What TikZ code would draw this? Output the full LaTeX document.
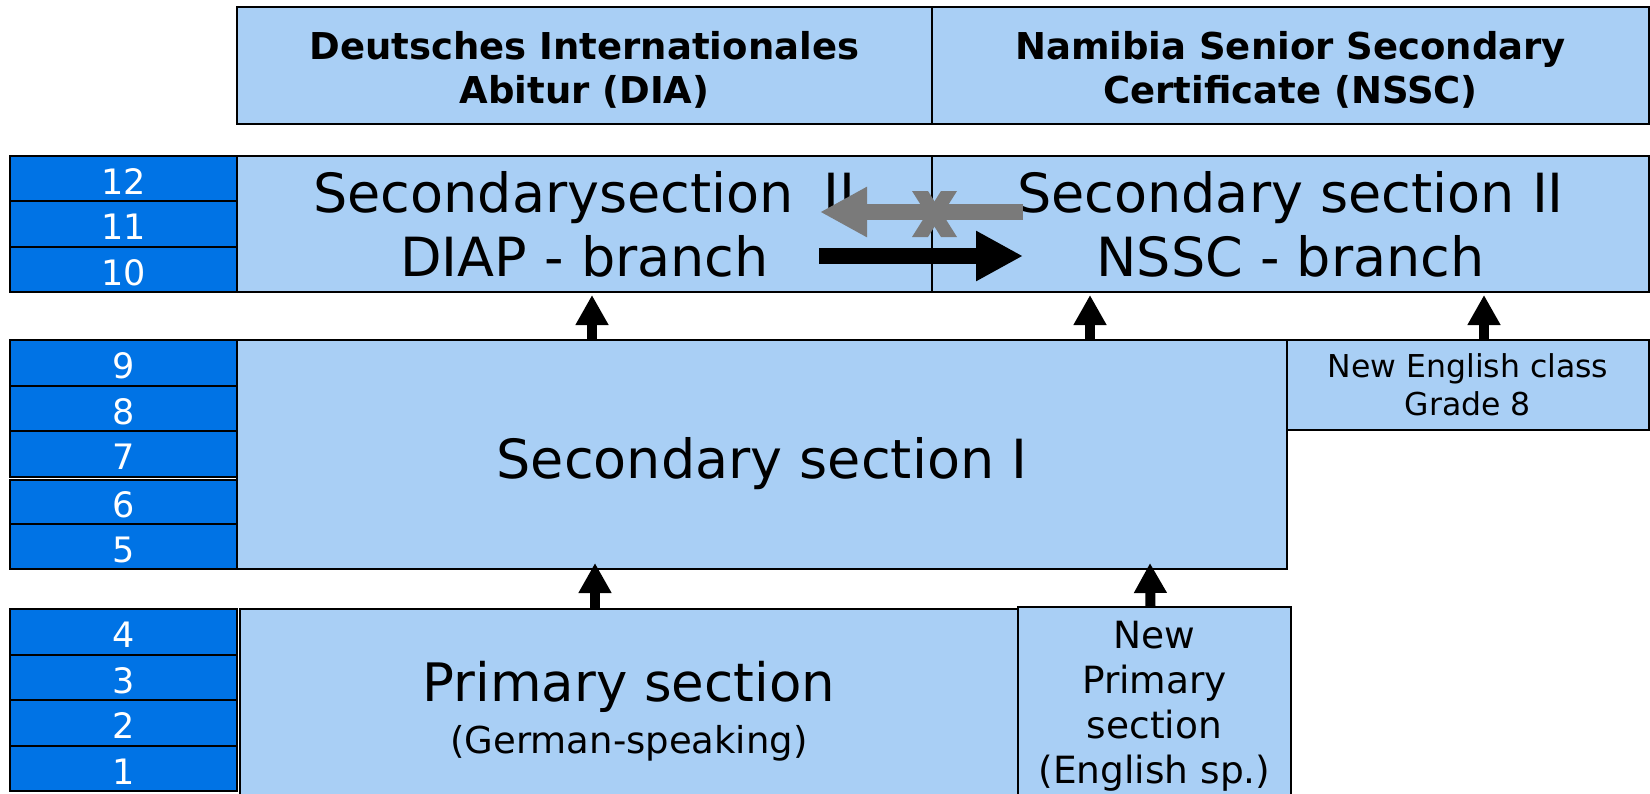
\documentclass[tikz,border=0pt]{standalone}
\usepackage{fontspec}
\setmainfont{DejaVu Sans}
\usepackage{tikz}
\usetikzlibrary{arrows.meta,calc}
\definecolor{paleblue}{RGB}{169,207,245}
\definecolor{gradeblue}{RGB}{0,115,229}
\definecolor{arrowgray}{RGB}{122,122,122}

\begin{document}
\begin{tikzpicture}[x=1pt, y=-1pt,
  sectionbox/.style={draw=black, line width=1.5pt, fill=paleblue, inner sep=0pt, outer sep=0pt, align=center},
  headbox/.style={sectionbox, minimum height=117pt, text height=76pt, text depth=0pt, font=\bfseries\fontsize{37}{44}\selectfont},
  gradebox/.style={draw=black, line width=2pt, fill=gradeblue, text=white, minimum width=227pt, minimum height=45.6pt, inner sep=0pt, outer sep=0pt, text height=31.5pt, text depth=0pt, font=\fontsize{35}{35}\selectfont},
  uparrow/.style={line width=10pt, -{Triangle[length=30pt, width=31pt]}},
  sidearrow/.style={line width=16pt, -{Triangle[length=47pt, width=47pt]}},
  bigtext/.style={font=\fontsize{54}{64}\selectfont}]

\useasboundingbox (0, 0) rectangle (1650, 793);

% leaving certificates
\node (diaHead) at (584.5, 65.5) [headbox, minimum width=695pt] {Deutsches Internationales\\Abitur (DIA)};
\node (nsscHead) at (1290.5, 65.5) [headbox, minimum width=717pt] {Namibia Senior Secondary\\Certificate (NSSC)};

% grades 10 to 12
\node (g12) at (123.5, 178.8) [gradebox, minimum height=45.3pt] {12};
\node (g11) at (123.5, 224.1) [gradebox, minimum height=45.3pt] {11};
\node (g10) at (123.5, 269.4) [gradebox, minimum height=45.3pt] {10};
\node (diap) at (584.5, 224) [sectionbox, bigtext, minimum width=695pt, minimum height=136pt] {Secondarysection\hspace{30pt}II\\DIAP - branch};
\node (nssc) at (1290.5, 224) [sectionbox, bigtext, minimum width=717pt, minimum height=136pt] {Secondary section II\\NSSC - branch};

% grades 5 to 9
\node (g9) at (123.5, 362.9) [gradebox] {9};
\node (g8) at (123.5, 408.5) [gradebox] {8};
\node (g7) at (123.5, 454.1) [gradebox] {7};
\node (g6) at (123.5, 501.9) [gradebox, minimum height=44.2pt] {6};
\node (g5) at (123.5, 546.5) [gradebox, minimum height=45pt] {5};
\node (secI) at (762, 454.5) [sectionbox, bigtext, minimum width=1050pt, minimum height=229pt, text height=60pt] {Secondary section I};
\node (english) at (1468, 385) [sectionbox, minimum width=362pt, minimum height=90pt, font=\fontsize{31.5}{38}\selectfont] {New English class\\Grade 8};

% grades 1 to 4
\node (g4) at (123.5, 632) [gradebox] {4};
\node (g3) at (123.5, 677.5) [gradebox] {3};
\node (g2) at (123.5, 723) [gradebox] {2};
\node (g1) at (123.5, 768.5) [gradebox] {1};
\node (primG) at (629, 711) [sectionbox, minimum width=778pt, minimum height=204pt, font=\fontsize{53}{52}\selectfont] {Primary section\\\fontsize{37}{44}\selectfont(German-speaking)};
\node (primE) at (1154.5, 706.5) [sectionbox, minimum width=273pt, minimum height=199pt, font=\fontsize{37.5}{45}\selectfont] {New\\Primary\\section\\(English sp.)};

% pathways
\draw[uparrow] ($(secI.north west)+(355, 0)$) -- ($(diap.south west)+(355, 3)$);
\draw[uparrow] ($(secI.north west)+(853, 0)$) -- ($(nssc.south west)+(158, 3)$);
\draw[uparrow] ($(english.north west)+(197, 0)$) -- ($(nssc.south west)+(552, 3)$);
\draw[uparrow] ($(primG.north west)+(355, 0)$) -- ($(secI.south west)+(358, -6)$);
\draw[uparrow] ($(primE.north)+(-4, 0)$) -- ($(secI.south east)+(-137, -6)$);

% switching between branches
\draw[sidearrow, arrowgray] ($(diap.east)+(91, -12)$) -- ($(diap.east)+(-112, -12)$);
\fill[arrowgray] ($(diap.east)+(-20, -33)$) -- ++(16, 0) -- ++(29, 46) -- ++(-16, 0) -- cycle;
\fill[arrowgray] ($(diap.east)+(9, -33)$) -- ++(16, 0) -- ++(-29, 46) -- ++(-16, 0) -- cycle;
\draw[sidearrow, black] ($(diap.east)+(-113, 32)$) -- ($(diap.east)+(91, 32)$);
\end{tikzpicture}
\end{document}
